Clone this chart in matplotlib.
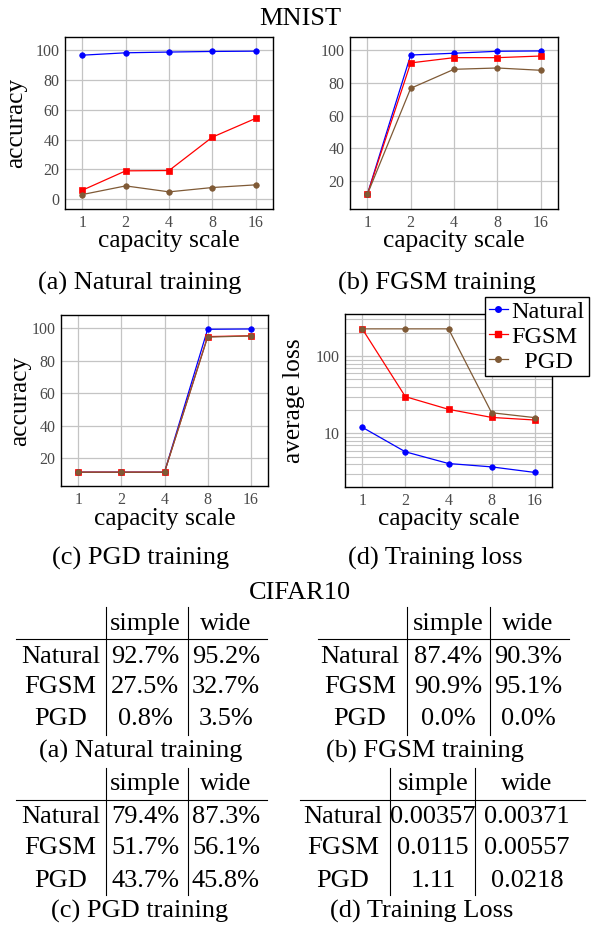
import matplotlib
matplotlib.use("Agg")
import matplotlib.pyplot as plt
from matplotlib.lines import Line2D
from matplotlib.ticker import FixedLocator, NullLocator, NullFormatter, LogLocator

plt.rcParams["font.family"] = ["Liberation Serif", "DejaVu Serif"]

W, H = 592, 925

# MNIST curves (capacity scale -> accuracy / loss)
scales = [1, 2, 4, 8, 16]
scale_labels = ["1", "2", "4", "8", "16"]

nat_natural = [96.6, 98.2, 98.7, 99.1, 99.3]
nat_fgsm = [6.0, 19.0, 19.2, 41.6, 54.2]
nat_pgd = [3.1, 8.9, 4.9, 7.8, 9.6]

fgsm_natural = [11.9, 96.9, 98.0, 99.2, 99.4]
fgsm_fgsm = [11.9, 92.1, 95.3, 95.3, 96.3]
fgsm_pgd = [11.9, 76.6, 88.2, 89.0, 87.6]

pgd_natural = [11.4, 11.4, 11.4, 99.4, 99.6]
pgd_fgsm = [11.4, 11.4, 11.4, 94.9, 95.4]
pgd_pgd = [11.4, 11.4, 11.4, 94.6, 95.3]

loss_natural = [12.0, 5.77, 4.07, 3.68, 3.12]
loss_fgsm = [226, 29.9, 20.5, 16.1, 14.9]
loss_pgd = [226, 226, 226, 18.5, 16.0]

series_names = ["Natural", "FGSM", "PGD"]
legend_labels = ["Natural", "FGSM", "  PGD"]

# CIFAR10 tables
row_names = ["Natural", "FGSM", "PGD"]
col_names = ["simple", "wide"]
cifar_natural = [["92.7%", "95.2%"], ["27.5%", "32.7%"], ["0.8%", "3.5%"]]
cifar_fgsm = [["87.4%", "90.3%"], ["90.9%", "95.1%"], ["0.0%", "0.0%"]]
cifar_pgd = [["79.4%", "87.3%"], ["51.7%", "56.1%"], ["43.7%", "45.8%"]]
cifar_loss = [["0.00357", "0.00371"], ["0.0115", "0.00557"], ["1.11", "0.0218"]]

BLUE = "#0000ff"
RED = "#ff0000"
BROWN = "#7f5a36"
GREY_TXT = "#4a4a4a"
GRID = "#c4c4c4"

BIG = 19
LABEL = 18.3
TICK = 11.5


def box(l, t, r, b):
    return [l / W, 1 - b / H, (r - l) / W, (b - t) / H]


fig = plt.figure(figsize=(W / 100, H / 100), dpi=100)

ov = fig.add_axes([0, 0, 1, 1], zorder=-1)
ov.set_xlim(0, W)
ov.set_ylim(H, 0)
ov.axis("off")


def style_axis(ax, ylim, yticks, logy=False):
    ax.set_xscale("log", base=2)
    ax.set_xlim(2 ** -0.4, 2 ** 4.4)
    ax.xaxis.set_major_locator(FixedLocator(scales))
    ax.xaxis.set_minor_locator(NullLocator())
    ax.set_xticklabels(scale_labels)
    if logy:
        ax.set_yscale("log")
        ax.yaxis.set_major_locator(FixedLocator(yticks))
        ax.yaxis.set_minor_locator(LogLocator(base=10, subs=range(2, 10)))
        ax.yaxis.set_minor_formatter(NullFormatter())
        ax.set_yticklabels([str(v) for v in yticks])
        ax.grid(True, which="minor", axis="y", color=GRID, lw=0.8)
    else:
        ax.set_yticks(yticks)
    ax.set_ylim(*ylim)
    ax.grid(True, which="major", color=GRID, lw=0.9)
    ax.set_axisbelow(True)
    ax.tick_params(which="both", direction="in", length=0, labelsize=TICK,
                   labelcolor=GREY_TXT, pad=4)
    for sp in ax.spines.values():
        sp.set_color("black")
        sp.set_linewidth(1.0)


def draw_series(ax, ys_list):
    styles = [(BLUE, "o", 4.0), (RED, "s", 4.2), (BROWN, "o", 4.0)]
    for ys, (c, m, ms), name in zip(ys_list, styles, series_names):
        ax.plot(scales, ys, color=c, marker=m, ms=ms, lw=0.9, label=name,
                markeredgewidth=0.5)


def labels(ax, ylabel, y_x, x_base_px, ax_box):
    l, t, r, b = ax_box
    ax.set_xlabel("capacity scale", fontsize=LABEL, va="baseline")
    ax.xaxis.set_label_coords(0.5, (b - x_base_px) / (b - t))
    if ylabel:
        ax.set_ylabel(ylabel, fontsize=LABEL, va="baseline")
        ax.yaxis.set_label_coords((y_x - l) / (r - l), 0.5)


box_a = (65, 37, 273, 209)
box_b = (350, 37, 558, 209)
box_c = (61, 315, 268, 486)
box_d = (345, 314, 552, 487)

ax_a = fig.add_axes(box(*box_a))
draw_series(ax_a, [nat_natural, nat_fgsm, nat_pgd])
style_axis(ax_a, (-6.6, 108.8), [0, 20, 40, 60, 80, 100])
labels(ax_a, "accuracy", 22, 247, box_a)

ax_b = fig.add_axes(box(*box_b))
draw_series(ax_b, [fgsm_natural, fgsm_fgsm, fgsm_pgd])
style_axis(ax_b, (3.0, 107.9), [20, 40, 60, 80, 100])
labels(ax_b, None, 0, 247, box_b)

ax_c = fig.add_axes(box(*box_c))
draw_series(ax_c, [pgd_natural, pgd_fgsm, pgd_pgd])
style_axis(ax_c, (2.9, 108.2), [20, 40, 60, 80, 100])
labels(ax_c, "accuracy", 26.5, 525, box_c)

ax_d = fig.add_axes(box(*box_d))
draw_series(ax_d, [loss_natural, loss_fgsm, loss_pgd])
style_axis(ax_d, (2.02, 352), [10, 100], logy=True)
labels(ax_d, "average loss", 300, 525, box_d)

handles = [
    Line2D([], [], color=BLUE, marker="o", ms=4.0, lw=0.9),
    Line2D([], [], color=RED, marker="s", ms=4.2, lw=0.9),
    Line2D([], [], color=BROWN, marker="o", ms=4.0, lw=0.9),
]
leg = fig.legend(handles, legend_labels, loc="upper left",
                 bbox_to_anchor=(485 / W, 1 - 297 / H), fontsize=17.5,
                 frameon=True, fancybox=False, framealpha=1, edgecolor="black",
                 handlelength=0.8, handletextpad=0.15, labelspacing=0.12,
                 borderpad=0.15, borderaxespad=0)
leg.get_frame().set_linewidth(1.0)
leg.set_zorder(10)

# titles and captions
ov.text(300, 25, "MNIST", ha="center", va="baseline", fontsize=BIG)
ov.text(140, 290, "(a) Natural training", ha="center", va="baseline", fontsize=BIG)
ov.text(437, 290, "(b) FGSM training", ha="center", va="baseline", fontsize=BIG)
ov.text(141, 565, "(c) PGD training", ha="center", va="baseline", fontsize=BIG)
ov.text(435, 565, "(d) Training loss", ha="center", va="baseline", fontsize=BIG)
ov.text(300, 599, "CIFAR10", ha="center", va="baseline", fontsize=BIG)


def draw_table(cells, x_left, x_v1, x_v2, x_right, y_head, y_hline, y_rows,
               v_top, v_bot, col_centers):
    ov.plot([x_left, x_right], [y_hline, y_hline], color="black", lw=0.8)
    for xv in (x_v1, x_v2):
        ov.plot([xv, xv], [v_top, v_bot], color="black", lw=0.8)
    for name, xc in zip(col_names, col_centers[1:]):
        ov.text(xc, y_head, name, ha="center", va="baseline", fontsize=BIG)
    for rname, vals, yr in zip(row_names, cells, y_rows):
        ov.text(col_centers[0], yr, rname, ha="center", va="baseline", fontsize=BIG)
        for v, xc in zip(vals, col_centers[1:]):
            ov.text(xc, yr, v, ha="center", va="baseline", fontsize=BIG)


top_rows = [663, 693, 725]
bot_rows = [823, 854, 887]

draw_table(cifar_natural, 16, 105.7, 188.2, 267, 630, 639, top_rows, 607, 735,
           [60.5, 145, 226])
draw_table(cifar_fgsm, 318, 406.5, 489.7, 569, 630, 639, top_rows, 607, 735,
           [360, 448, 528])
draw_table(cifar_pgd, 16, 105.7, 188.2, 267, 790, 800, bot_rows, 768, 895,
           [60.5, 145, 226])
draw_table(cifar_loss, 300, 390, 474.5, 585, 790, 800, bot_rows, 768, 895,
           [343, 433, 527])

ov.text(141, 758, "(a) Natural training", ha="center", va="baseline", fontsize=BIG)
ov.text(425, 758, "(b) FGSM training", ha="center", va="baseline", fontsize=BIG)
ov.text(140, 918, "(c) PGD training", ha="center", va="baseline", fontsize=BIG)
ov.text(422, 918, "(d) Training Loss", ha="center", va="baseline", fontsize=BIG)

fig.savefig("out.png", dpi=100)
